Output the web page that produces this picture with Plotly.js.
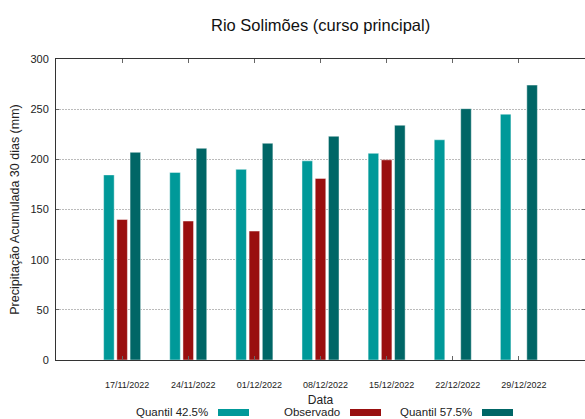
<!DOCTYPE html>
<html>
<head>
<meta charset="utf-8">
<script src="https://cdn.plot.ly/plotly-3.0.1.min.js"></script>
<style>html,body{margin:0;padding:0;background:#fff}#chart{width:585px;height:419px}</style>
</head>
<body>
<div id="chart"></div>
<script>
const dates = ["17/11/2022","24/11/2022","01/12/2022","08/12/2022","15/12/2022","22/12/2022","29/12/2022"];
const seriesNames = ["Quantil 42.5%","Observado","Quantil 57.5%"];
const q425 = [184.5, 187, 190, 198.5, 206, 219.5, 245];
const observado = [140, 138.5, 128.5, 181, 199.5, null, null];
const q575 = [207, 211, 216, 223, 234, 250.5, 274];
const colors = ["#009999","#990f0f","#006666"];

const font = "Liberation Sans, Arial, sans-serif";
const allSeries = [q425, observado, q575];
const traces = allSeries.map((vals, k) => ({
  type: "bar",
  x: dates,
  y: vals,
  name: seriesNames[k],
  marker: {color: colors[k], line: {color: "rgba(255,255,255,0.45)", width: 1}},
  showlegend: false,
  hoverinfo: "skip"
}));

const annotations = [];
const shapes = [];
const legX = [218, 350, 482];
seriesNames.forEach((n, k) => {
  annotations.push({xref: "paper", yref: "paper", x: (legX[k] - 8 - 56) / 529, y: (360 - 411.5) / 301,
    text: n, showarrow: false, xanchor: "right", yanchor: "middle", font: {family: font, size: 11.5, color: "#222"}});
  shapes.push({type: "rect", xref: "paper", yref: "paper",
    x0: (legX[k] - 56) / 529, x1: (legX[k] + 31 - 56) / 529,
    y0: (360 - 416) / 301, y1: (360 - 409) / 301,
    fillcolor: colors[k], line: {width: 0}});
});

const layout = {
  width: 585, height: 419,
  margin: {l: 56, r: 0, t: 59, b: 59, pad: 0},
  paper_bgcolor: "#fff", plot_bgcolor: "#fff",
  title: {text: "Rio Solimões (curso principal)", x: 0.548, xanchor: "center", y: 0.94, yanchor: "middle",
    font: {family: font, size: 16.5, color: "#111"}},
  barmode: "group", bargap: 0.4, bargroupgap: 0.2,
  xaxis: {
    type: "category", range: [-1, 7],
    showgrid: false, zeroline: false,
    showline: true, linecolor: "#333", linewidth: 1, mirror: "ticks",
    ticks: "inside", ticklen: 4, tickcolor: "#666", ticklabelshift: 5, ticklabelstandoff: 16,
    tickfont: {family: font, size: 9, color: "#222"},
    title: {text: "Data", standoff: 6, font: {family: font, size: 12, color: "#222"}}
  },
  yaxis: {
    range: [0, 300], dtick: 50,
    showgrid: true, gridcolor: "#bbbbbb", griddash: "2px,1px", gridwidth: 1,
    zeroline: false, showline: true, linecolor: "#333", linewidth: 1, mirror: "ticks",
    ticks: "inside", ticklen: 3, tickcolor: "#666",
    tickfont: {family: font, size: 11, color: "#222"}, ticklabelstandoff: 4,
    title: {text: "Precipitação Acumulada 30 dias (mm)", standoff: 8, font: {family: font, size: 12.5, color: "#222"}}
  },
  annotations: annotations,
  shapes: shapes
};
Plotly.newPlot("chart", traces, layout, {displayModeBar: false, staticPlot: true});
</script>
</body>
</html>
